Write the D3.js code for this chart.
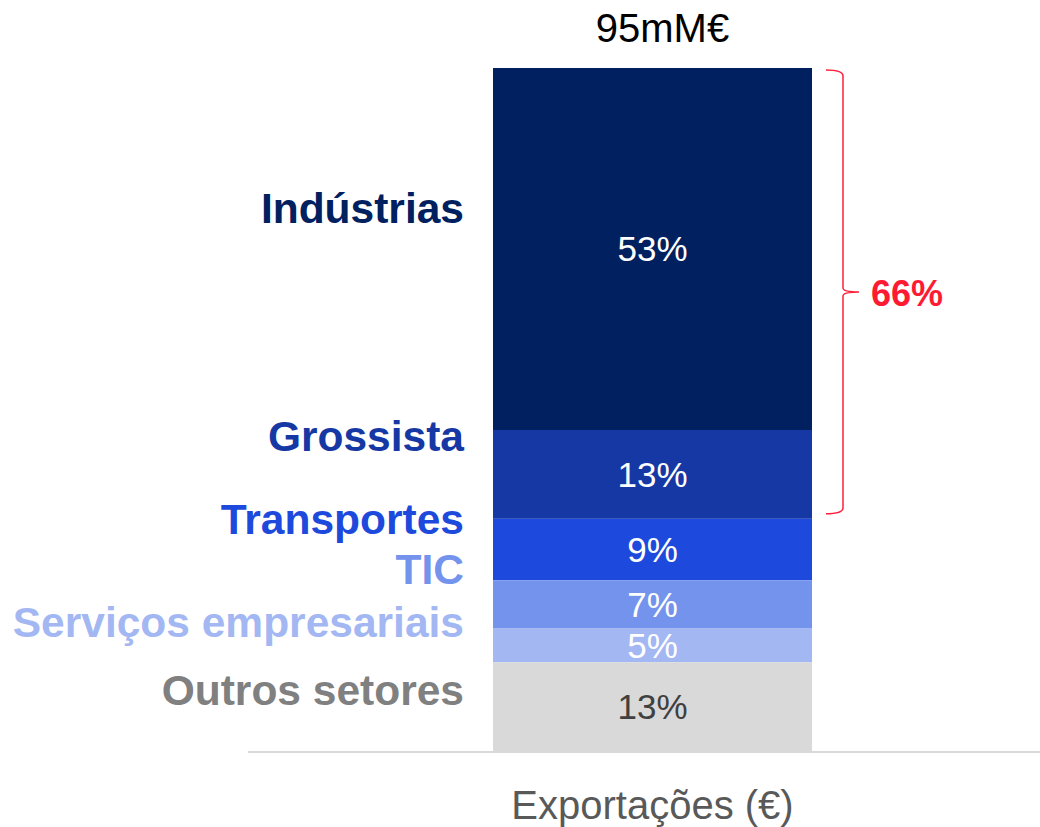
<!DOCTYPE html>
<html>
<head>
<meta charset="utf-8">
<script src="https://cdn.jsdelivr.net/npm/d3@7"></script>
<style>
  body { margin: 0; background: #fff; }
  text { font-family: "Liberation Sans", Arial, sans-serif; }
</style>
</head>
<body>
<svg id="chart" width="1040" height="827"></svg>
<script>
// data
const sectors = ["Indústrias", "Grossista", "Transportes", "TIC", "Serviços empresariais", "Outros setores"]
const shares = [53, 13, 9, 7, 5, 13]
const category = "Exportações (€)"
const totalLabel = "95mM€"
const bracketShare = 66

// styles
const fills = ["#002060", "#1538a5", "#1d4adc", "#7493ed", "#a3b7f3", "#d9d9d9"]
const nameColors = ["#002060", "#1538a5", "#1d4adc", "#7493ed", "#a3b7f3", "#808080"]
const valueColors = ["#fff", "#fff", "#fff", "#fff", "#fff", "#404040"]
// label baseline shift from segment middle
const labelDy = [-26, -23, -16, -20, -8, -2]

const svg = d3.select("#chart")

const x = d3.scaleBand()
  .domain([category])
  .range([493, 812])

const y = d3.scaleLinear()
  .domain([0, d3.sum(shares)])
  .range([68, 751])

const ends = Array.from(d3.cumsum(shares))
const segs = sectors.map((name, i) => ({
  name,
  value: shares[i],
  y0: ends[i] - shares[i],
  y1: ends[i],
  i
}))

// bar segments
svg.selectAll("rect.seg")
  .data(segs)
  .join("rect")
  .attr("class", "seg")
  .attr("x", x(category))
  .attr("width", x.bandwidth())
  .attr("y", d => y(d.y0))
  .attr("height", d => y(d.y1) - y(d.y0))
  .attr("fill", d => fills[d.i])

// values inside
svg.selectAll("text.val")
  .data(segs)
  .join("text")
  .attr("class", "val")
  .attr("x", x(category) + x.bandwidth() / 2)
  .attr("y", d => (y(d.y0) + y(d.y1)) / 2 + 12.5)
  .attr("text-anchor", "middle")
  .style("font-size", "35px")
  .attr("fill", d => valueColors[d.i])
  .text(d => d.value + "%")

// sector names on the left
svg.selectAll("text.name")
  .data(segs)
  .join("text")
  .attr("class", "name")
  .attr("x", 464)
  .attr("y", d => (y(d.y0) + y(d.y1)) / 2 + labelDy[d.i])
  .attr("text-anchor", "end")
  .style("font-size", "42.5px")
  .style("font-weight", "bold")
  .attr("fill", d => nameColors[d.i])
  .text(d => d.name)

// total on top
svg.append("text")
  .attr("x", x(category) + x.bandwidth() / 2 + 10)
  .attr("y", 42)
  .attr("text-anchor", "middle")
  .style("font-size", "40px")
  .attr("fill", "#000")
  .text(totalLabel)

// baseline
svg.append("line")
  .attr("x1", 248)
  .attr("x2", 1040)
  .attr("y1", y(100) + 1)
  .attr("y2", y(100) + 1)
  .attr("stroke", "#d9d9d9")
  .attr("stroke-width", 2)

// category axis
const xAxis = svg.append("g")
  .attr("transform", `translate(0, ${y(100)})`)
  .call(d3.axisBottom(x).tickSize(0).tickPadding(68))
xAxis.select(".domain").remove()
xAxis.selectAll("text")
  .style("font-size", "40px")
  .style("font-family", "'Liberation Sans', Arial, sans-serif")
  .attr("fill", "#595959")
  .attr("dy", 0)

// bracket over the top share
const bTop = y(0) + 2
const bBot = y(bracketShare) - 5
const bMid = (bTop + bBot) / 2
const bx0 = 826, bx1 = 843, tip = 859
const bracket = d3.path()
bracket.moveTo(bx0, bTop)
bracket.quadraticCurveTo(bx1, bTop, bx1, bTop + 6)
bracket.lineTo(bx1, bMid - 4)
bracket.quadraticCurveTo(bx1, bMid, tip, bMid)
bracket.quadraticCurveTo(bx1, bMid, bx1, bMid + 4)
bracket.lineTo(bx1, bBot - 6)
bracket.quadraticCurveTo(bx1, bBot, bx0, bBot)

svg.append("path")
  .attr("d", bracket.toString())
  .attr("fill", "none")
  .attr("stroke", "#ff1f3a")
  .attr("stroke-width", 1.5)

svg.append("text")
  .attr("x", 871)
  .attr("y", bMid + 14)
  .style("font-size", "36px")
  .style("font-weight", "bold")
  .attr("fill", "#ff1a33")
  .text(bracketShare + "%")
</script>
</body>
</html>
